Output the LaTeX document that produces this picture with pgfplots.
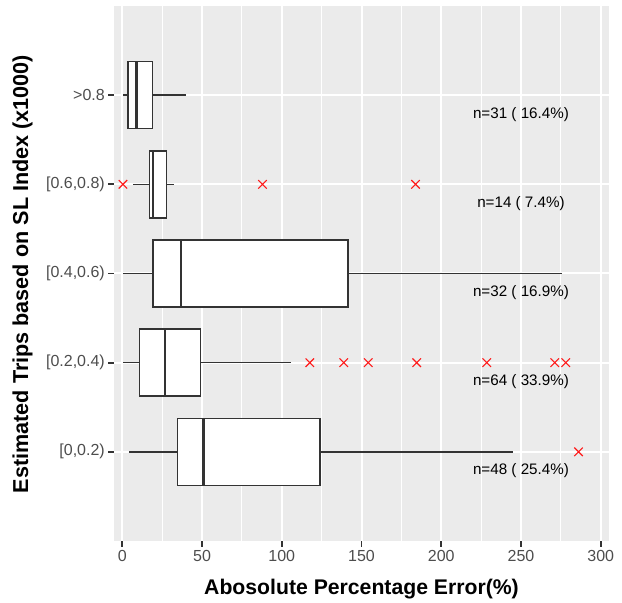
\documentclass[border=0pt]{standalone}
\usepackage{fontspec}
\setmainfont{Liberation Sans}
\usepackage{pgfplots}
\pgfplotsset{compat=1.18}
\usepgfplotslibrary{statistics}
\definecolor{panel}{HTML}{EBEBEB}
\definecolor{tickgray}{HTML}{4D4D4D}
\definecolor{boxline}{HTML}{333333}
\definecolor{outred}{HTML}{FF1A1A}
\begin{document}
\begin{tikzpicture}[x=1pt,y=1pt]
\path[use as bounding box] (0,0) rectangle (622,603);
\begin{axis}[
  at={(114.3pt,62pt)}, anchor=south west,
  width=494.4pt, height=535pt, scale only axis,
  xmin=-5, xmax=305, ymin=0, ymax=6,
  xtick={0,50,...,300}, minor xtick={25,75,...,275},
  ytick={1,2,3,4,5},
  yticklabels={{[0,0.2)},{[0.2,0.4)},{[0.4,0.6)},{[0.6,0.8)},{>0.8}},
  axis background/.style={fill=panel},
  axis line style={draw=none},
  grid=both,
  major grid style={white, line width=2pt},
  minor grid style={white, line width=1pt},
  tick align=outside,
  tick pos=left,
  major tick length=6pt, minor tick length=0pt,
  tick style={boxline, line width=1.8pt},
  ticklabel style={font=\fontsize{16}{19}\selectfont, text=tickgray},
  /pgf/number format/assume math mode=true,
  boxplot/every box/.style={draw=boxline, fill=white, line width=1.5pt},
  boxplot/every median/.style={draw=boxline, line width=2.8pt},
  boxplot/every whisker/.style={draw=boxline, line width=1.5pt},
  boxplot/box extend=0.75,
  boxplot/whisker extend=0,
]
% [0,0.2)
\addplot[boxplot prepared={draw position=1, lower whisker=4.2, lower quartile=34.5, median=50.7, upper quartile=123.9, upper whisker=245.0}, boxline, line width=1.5pt] coordinates {};
% [0.2,0.4)
\addplot[boxplot prepared={draw position=2, lower whisker=0.4, lower quartile=10.7, median=26.8, upper quartile=49.2, upper whisker=105.6}, boxline, line width=1.5pt] coordinates {};
% [0.4,0.6)
\addplot[boxplot prepared={draw position=3, lower whisker=0.4, lower quartile=19.3, median=36.8, upper quartile=141.4, upper whisker=275.6}, boxline, line width=1.5pt] coordinates {};
% [0.6,0.8)
\addplot[boxplot prepared={draw position=4, lower whisker=6.7, lower quartile=17.1, median=19.3, upper quartile=27.6, upper whisker=32.6}, boxline, line width=1.5pt] coordinates {};
% >0.8
\addplot[boxplot prepared={draw position=5, lower whisker=0.2, lower quartile=3.6, median=8.8, upper quartile=19.0, upper whisker=40.0}, boxline, line width=1.5pt] coordinates {};
% outliers
\addplot[only marks, mark=x, mark size=6pt, outred, mark options={line width=1.1pt}] coordinates {
  (0.4,4) (87.9,4) (183.9,4)
  (117.6,2) (138.9,2) (154.2,2) (184.6,2) (228.5,2) (271.2,2) (278.1,2)
  (286.1,1)};
\begin{scope}[every node/.style={font=\fontsize{15.2}{18}\selectfont, text=black}]
\node at (axis cs:250,4.786) {n=31 ( 16.4\%)};
\node at (axis cs:250,3.786) {n=14 ( 7.4\%)};
\node at (axis cs:250,2.786) {n=32 ( 16.9\%)};
\node at (axis cs:250,1.786) {n=64 ( 33.9\%)};
\node at (axis cs:250,0.786) {n=48 ( 25.4\%)};
\end{scope}
\end{axis}
\node[rotate=90, anchor=base, font=\bfseries\fontsize{21.6}{25}\selectfont] at (28,329) {Estimated Trips based on SL Index (x1000)};
\node[anchor=base, font=\bfseries\fontsize{21.2}{25}\selectfont] at (361.5,8) {Abosolute Percentage Error(\%)};
\end{tikzpicture}
\end{document}
